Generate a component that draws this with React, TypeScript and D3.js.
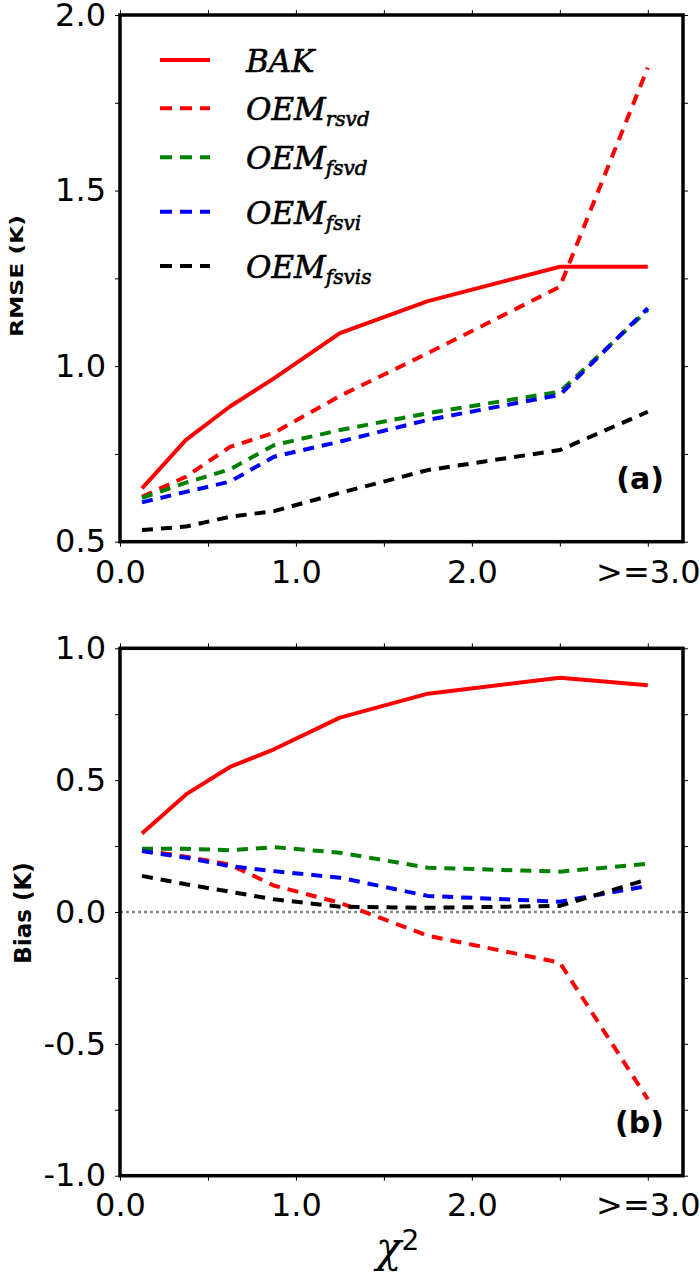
import * as d3 from 'd3'
import {useEffect, useRef} from 'react'

// chi^2 bin centres (last bin is ">=3.0")
const chiBins = [0.125, 0.375, 0.625, 0.875, 1.25, 1.75, 2.5, 3.0]
const xMajorTicks = [0, 1, 2, 3]
const xTickLabels = ['0.0', '1.0', '2.0', '>=3.0']
const xMinorTicks = [0.5, 1.5, 2.5]

// panel (a) RMSE (K)
const bakRmse = [0.652, 0.79, 0.885, 0.965, 1.094, 1.185, 1.283, 1.283]
const rsvdRmse = [0.628, 0.685, 0.77, 0.81, 0.915, 1.037, 1.226, 1.85]
const fsvdRmse = [0.625, 0.668, 0.706, 0.775, 0.818, 0.866, 0.927, 1.16]
const fsviRmse = [0.612, 0.642, 0.671, 0.742, 0.785, 0.847, 0.918, 1.165]
const fsvisRmse = [0.533, 0.543, 0.571, 0.587, 0.639, 0.704, 0.761, 0.87]
const rmseTicks = [0.5, 1.0, 1.5, 2.0]
const rmseMinor = [0.75, 1.25, 1.75]

// panel (b) Bias (K)
const bakBias = [0.298, 0.446, 0.55, 0.617, 0.737, 0.828, 0.888, 0.86]
const rsvdBias = [0.234, 0.21, 0.18, 0.1, 0.035, -0.09, -0.192, -0.71]
const fsvdBias = [0.24, 0.24, 0.234, 0.246, 0.225, 0.168, 0.153, 0.183]
const fsviBias = [0.231, 0.206, 0.174, 0.155, 0.13, 0.061, 0.039, 0.099]
const fsvisBias = [0.137, 0.105, 0.077, 0.048, 0.02, 0.016, 0.023, 0.124]
const biasTicks = [-1.0, -0.5, 0.0, 0.5, 1.0]
const biasMinor = [-0.75, -0.25, 0.25, 0.75]

const seriesNames = ['BAK', 'OEM_rsvd', 'OEM_fsvd', 'OEM_fsvi', 'OEM_fsvis']
const seriesSubs = ['', 'rsvd', 'fsvd', 'fsvi', 'fsvis']
const seriesColors = ['#ff0000', '#ff0000', '#008000', '#0000ff', '#000000']
const seriesDashed = [false, true, true, true, true]

const W = 700
const H = 1274
const LEFT = 120
const RIGHT = 683
const SANS = 'DejaVu Sans, sans-serif'
const SERIF = 'DejaVu Serif, serif'

function drawPanel(svg: any, opts: {
  top: number
  bottom: number
  domain: [number, number]
  ticks: number[]
  minor: number[]
  values: number[][]
  tag: string
  tagY: number
  xPad: number
  zeroLine?: boolean
}) {
  const x = d3.scaleLinear().domain([0, 3.2]).range([LEFT, RIGHT])
  const y = d3.scaleLinear().domain(opts.domain).range([opts.bottom, opts.top])
  const g = svg.append('g')

  const style = (sel: any) => {
    sel.select('.domain').remove()
    sel.selectAll('.tick line').attr('stroke', '#000').attr('stroke-width', 1)
    sel.selectAll('.tick text').attr('font-family', SANS).attr('font-size', 32).attr('fill', '#000')
  }

  const xVals = [...xMajorTicks, ...xMinorTicks]
  const xFmt = (d: any) => {
    const i = xMajorTicks.indexOf(d)
    return i >= 0 ? xTickLabels[i] : ''
  }
  g.append('g')
    .attr('transform', `translate(0,${opts.bottom})`)
    .call(d3.axisBottom(x).tickValues(xVals).tickFormat(xFmt).tickSize(5).tickPadding(opts.xPad))
    .call(style)
  g.append('g')
    .attr('transform', `translate(0,${opts.top})`)
    .call(d3.axisTop(x).tickValues(xVals).tickFormat(() => '').tickSize(5))
    .call(style)

  const yVals = [...opts.ticks, ...opts.minor]
  const yFmt = (d: any) => (opts.ticks.includes(d) ? d3.format('.1f')(d).replace('−', '-') : '')
  g.append('g')
    .attr('transform', `translate(${LEFT},0)`)
    .call(d3.axisLeft(y).tickValues(yVals).tickFormat(yFmt).tickSize(5).tickPadding(9))
    .call(style)
  g.append('g')
    .attr('transform', `translate(${RIGHT},0)`)
    .call(d3.axisRight(y).tickValues(yVals).tickFormat(() => '').tickSize(5))
    .call(style)

  if (opts.zeroLine) {
    g.append('line')
      .attr('x1', LEFT)
      .attr('x2', RIGHT)
      .attr('y1', y(0))
      .attr('y2', y(0))
      .attr('stroke', '#888')
      .attr('stroke-width', 2.5)
      .attr('stroke-dasharray', '3,3')
  }

  const line = d3
    .line<number>()
    .x((_, i) => x(chiBins[i]))
    .y(d => y(d))

  opts.values.forEach((vals, i) => {
    g.append('path')
      .attr('d', line(vals))
      .attr('fill', 'none')
      .attr('stroke', seriesColors[i])
      .attr('stroke-width', 4)
      .attr('stroke-linejoin', 'round')
      .attr('stroke-dasharray', seriesDashed[i] ? '11,8' : null)
  })

  g.append('rect')
    .attr('x', LEFT)
    .attr('y', opts.top)
    .attr('width', RIGHT - LEFT)
    .attr('height', opts.bottom - opts.top)
    .attr('fill', 'none')
    .attr('stroke', '#000')
    .attr('stroke-width', 3.5)

  g.append('text')
    .attr('x', 664)
    .attr('y', opts.tagY)
    .attr('text-anchor', 'end')
    .attr('font-family', SANS)
    .attr('font-weight', 'bold')
    .attr('font-size', 30)
    .text(opts.tag)
}

export default function App() {
  const ref = useRef<SVGSVGElement>(null)

  useEffect(() => {
    const svg = d3.select(ref.current)
    svg.selectAll('*').remove()

    drawPanel(svg, {
      top: 15,
      bottom: 541.7,
      domain: [0.5, 2.0],
      ticks: rmseTicks,
      minor: rmseMinor,
      values: [bakRmse, rsvdRmse, fsvdRmse, fsviRmse, fsvisRmse],
      tag: '(a)',
      tagY: 489,
      xPad: 14,
    })
    drawPanel(svg, {
      top: 648.3,
      bottom: 1175.7,
      domain: [-1.0, 1.0],
      ticks: biasTicks,
      minor: biasMinor,
      values: [bakBias, rsvdBias, fsvdBias, fsviBias, fsvisBias],
      tag: '(b)',
      tagY: 1133,
      xPad: 13,
      zeroLine: true,
    })

    // legend (panel a)
    const legendRows = [60, 108.3, 157.3, 211.7, 266]
    const leg = svg.append('g')
    seriesNames.forEach((name, i) => {
      const ly = legendRows[i]
      leg.append('line')
        .attr('x1', 160)
        .attr('x2', 210)
        .attr('y1', ly)
        .attr('y2', ly)
        .attr('stroke', seriesColors[i])
        .attr('stroke-width', 4)
        .attr('stroke-dasharray', seriesDashed[i] ? '12,8' : null)
      const t = leg.append('text')
        .attr('x', 246)
        .attr('y', ly + 12)
        .attr('font-family', SERIF)
        .attr('font-style', 'italic')
        .attr('font-size', 31)
        .attr('stroke', '#000')
        .attr('stroke-width', 0.6)
      if (seriesSubs[i]) {
        t.append('tspan').text('OEM')
        t.append('tspan').attr('font-size', 20).attr('dy', 6).text(seriesSubs[i])
      } else {
        t.text(name)
      }
    })

    // axis titles
    svg.append('text')
      .attr('transform', 'translate(23,276) rotate(-90)')
      .attr('text-anchor', 'middle')
      .attr('font-family', SANS)
      .attr('font-weight', 'bold')
      .attr('font-size', 17)
      .attr('textLength', 122)
      .attr('lengthAdjust', 'spacingAndGlyphs')
      .text('RMSE (K)')
    svg.append('text')
      .attr('transform', 'translate(31,913) rotate(-90)')
      .attr('text-anchor', 'middle')
      .attr('font-family', SANS)
      .attr('font-weight', 'bold')
      .attr('font-size', 23)
      .text('Bias (K)')
    const xl = svg.append('text')
      .attr('x', 376)
      .attr('y', 1262)
      .attr('font-family', SERIF)
      .attr('font-style', 'italic')
      .attr('font-size', 42)
    xl.append('tspan').text('χ')
    xl.append('tspan')
      .attr('font-family', SANS)
      .attr('font-style', 'normal')
      .attr('font-size', 28)
      .attr('dy', -12)
      .text('2')
  }, [])

  return (
    <svg
      ref={ref}
      width={W}
      height={H}
      style={{position: 'absolute', left: 0, top: 0, background: '#fff'}}
    />
  )
}
